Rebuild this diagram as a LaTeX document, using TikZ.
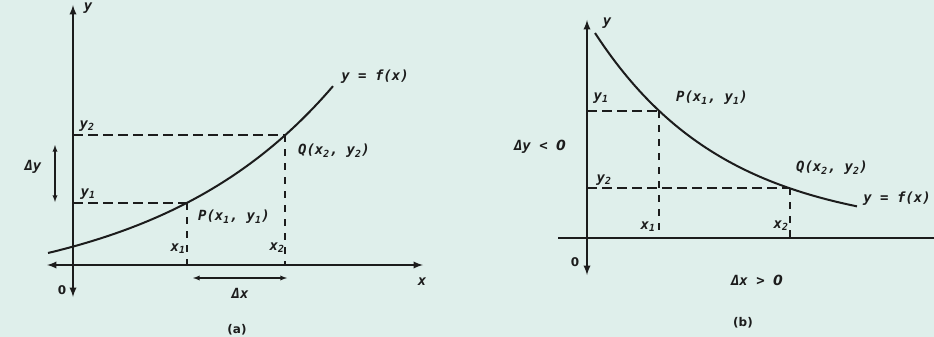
\documentclass[tikz,border=0pt]{standalone}
\usepackage{fontspec}
\setmonofont{DejaVu Sans Mono}
\setsansfont{DejaVu Sans}
\usetikzlibrary{arrows}
\definecolor{paper}{RGB}{223,239,235}
\definecolor{ink}{RGB}{28,28,28}
\newcommand{\ix}[1]{\textsubscript{#1}}
\newcommand{\nil}{{\sffamily\itshape 0}}

\begin{document}
\begin{tikzpicture}[x=1pt,y=-1pt,>=latex,
  axis/.style={ink,line width=2.2pt},
  graph/.style={ink,line width=2pt},
  hdash/.style={ink,line width=1.6pt,dash pattern=on 10pt off 5pt},
  vdash/.style={ink,line width=1.3pt,dash pattern=on 7pt off 7pt},
  lbl/.style={ink,inner sep=0pt,font=\ttfamily\bfseries\itshape\fontsize{14}{16}\selectfont},
  tag/.style={ink,inner sep=0pt,font=\sffamily\bfseries\fontsize{12}{14}\selectfont}]

  \fill[paper] (0,0) rectangle (934,337);
  \useasboundingbox (0,0) rectangle (934,337);

  % (a) increasing
  \coordinate (ayt) at (73,5);
  \coordinate (ayb) at (73,297);
  \coordinate (axl) at (47,265);
  \coordinate (axr) at (423,265);
  \coordinate (ay1) at (73,203);
  \coordinate (ay2) at (73,135);
  \coordinate (aP) at (187,203);
  \coordinate (aQ) at (285,135);
  \coordinate (ax1) at (187,265);
  \coordinate (ax2) at (285,265);
  \coordinate (ady1) at (55,145);
  \coordinate (ady2) at (55,202);
  \coordinate (adx1) at (193,278);
  \coordinate (adx2) at (287,278);

  \draw[axis,<->] (ayb) -- (ayt);
  \draw[axis,<->] (axl) -- (axr);
  \draw[hdash] (ay2) -- (aQ);
  \draw[hdash] (ay1) -- (aP);
  \draw[vdash] (aP) -- (ax1);
  \draw[vdash] (aQ) -- (ax2);
  \draw[graph] plot[domain=48:333,samples=60] (\x,{296.1-43.1*exp((\x-48)/180)});
  \draw[ink,line width=1.3pt,<->] (ady1) -- (ady2);
  \draw[ink,line width=1.3pt,<->] (adx1) -- (adx2);

  \node[lbl] (ylabA) at (88,8) {y};
  \node[lbl] (y2labA) at (87,126) {y\ix2};
  \node[lbl] (y1labA) at (88,194) {y\ix1};
  \node[lbl] (dylabA) at (33,167) {Δy};
  \node[tag] (zeroA) at (62,290) {0};
  \node[lbl] (xlabA) at (422,282) {x};
  \node[lbl] (x1labA) at (178,249) {x\ix1};
  \node[lbl] (x2labA) at (277,248) {x\ix2};
  \node[lbl] (PlabA) at (234,217) {P(x\ix1, y\ix1)};
  \node[lbl] (QlabA) at (334,151) {Q(x\ix2, y\ix2)};
  \node[lbl] (dxlabA) at (240,293) {Δx};
  \node[lbl] (flabA) at (375,77) {y = f(x)};
  \node[tag] (capA) at (237,330) {(a)};

  % (b) decreasing
  \coordinate (byt) at (587,20);
  \coordinate (byb) at (587,275);
  \coordinate (bxl) at (558,238);
  \coordinate (bxr) at (934,238);
  \coordinate (by1) at (587,111);
  \coordinate (by2) at (587,188);
  \coordinate (bP) at (659,111);
  \coordinate (bQ) at (790,188);
  \coordinate (bx1) at (659,238);
  \coordinate (bx2) at (790,238);

  \draw[axis,<->] (byb) -- (byt);
  \draw[axis] (bxl) -- (bxr);
  \draw[hdash] (by1) -- (bP);
  \draw[hdash] (by2) -- (bQ);
  \draw[vdash] (bP) -- (bx1);
  \draw[vdash] (bQ) -- (bx2);
  \draw[graph] plot[domain=595:857,samples=60] (\x,{233-200*exp(-(\x-595)/130)});

  \node[lbl] (ylabB) at (607,23) {y};
  \node[lbl] (y1labB) at (601,98) {y\ix1};
  \node[lbl] (y2labB) at (604,180) {y\ix2};
  \node[lbl] (dylabB) at (540,147) {Δy < \nil};
  \node[tag] (zeroB) at (575,262) {0};
  \node[lbl] (x1labB) at (648,227) {x\ix1};
  \node[lbl] (x2labB) at (781,226) {x\ix2};
  \node[lbl] (PlabB) at (712,98) {P(x\ix1, y\ix1)};
  \node[lbl] (QlabB) at (832,168) {Q(x\ix2, y\ix2)};
  \node[lbl] (flabB) at (897,199) {y = f(x)};
  \node[lbl] (dxlabB) at (757,280) {Δx > \nil};
  \node[tag] (capB) at (743,323) {(b)};
\end{tikzpicture}
\end{document}
